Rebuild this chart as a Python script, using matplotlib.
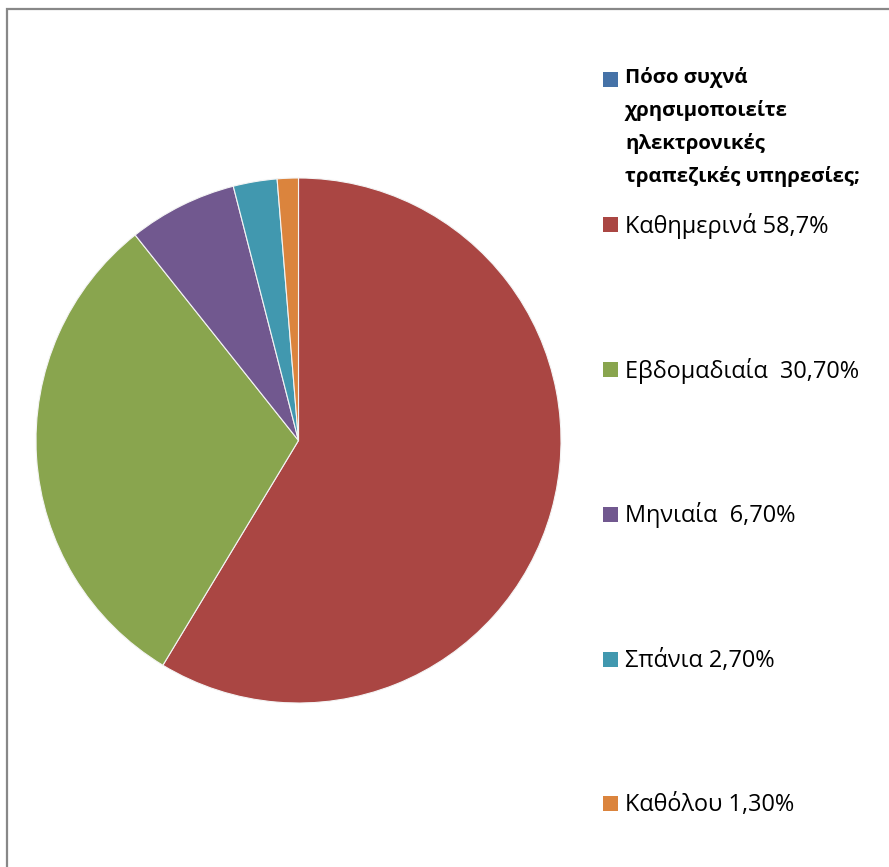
import matplotlib.pyplot as plt
from matplotlib.patches import Rectangle

plt.rcParams['font.family'] = ['Open Sans', 'DejaVu Sans']

title = "Πόσο συχνά\nχρησιμοποιείτε\nηλεκτρονικές\nτραπεζικές υπηρεσίες;"
categories = ["Καθημερινά 58,7%", "Εβδομαδιαία  30,70%", "Μηνιαία  6,70%",
              "Σπάνια 2,70%", "Καθόλου 1,30%"]
values = [58.7, 30.7, 6.7, 2.7, 1.3]
colors = ["#AA4643", "#89A54E", "#71588F", "#4198AF", "#DB843D"]
title_color = "#4572A7"

W, H = 889, 867
fig = plt.figure(figsize=(W / 100, H / 100), dpi=100)


def fx(px):
    return px / W


def fy(py):
    return 1 - py / H


# pie area
ax = fig.add_axes([fx(36), fy(703), fx(525), 525 / H])
ax.pie(values, colors=colors, startangle=90, counterclock=False, radius=1,
       wedgeprops=dict(edgecolor="#f4f4f4", linewidth=0.8))
ax.set_xlim(-1, 1)
ax.set_ylim(-1, 1)
ax.set_aspect('equal')
ax.axis('off')

# chart border (only top and left edges visible)
fig.add_artist(Rectangle((fx(7), fy(H + 20)), 1.2, (H + 11.5) / H, fill=False,
                         edgecolor="#888888", linewidth=1.6,
                         transform=fig.transFigure))

# legend, laid out by hand
sq = 15
text_x = 625
fig.add_artist(Rectangle((fx(603), fy(79.5 + sq / 2)), fx(sq), sq / H,
                         facecolor=title_color, edgecolor='none',
                         transform=fig.transFigure))
fig.text(fx(text_x), fy(67), title, fontsize=14.7, fontweight='bold',
         va='top', ha='left', linespacing=1.74)

rows = [224.5, 369.5, 514, 659, 803.5]
for label, c, yc in zip(categories, colors, rows):
    fig.add_artist(Rectangle((fx(603), fy(yc + sq / 2)), fx(sq), sq / H,
                             facecolor=c, edgecolor='none',
                             transform=fig.transFigure))
    fig.text(fx(text_x), fy(yc + 1.5), label, fontsize=16.9,
             va='center', ha='left')

fig.savefig("out.png", dpi=100, facecolor='white')
